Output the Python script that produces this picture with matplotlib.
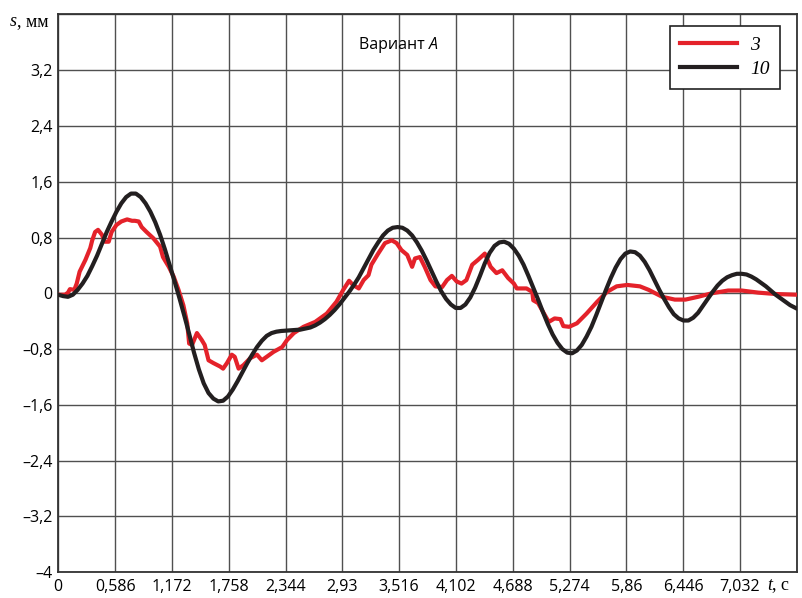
import matplotlib
matplotlib.use("Agg")
import matplotlib.pyplot as plt
from matplotlib.lines import Line2D

# curve "10" (black): t in s, s in mm
t10 = [0.00, 0.05, 0.10, 0.15, 0.20, 0.25, 0.30, 0.35, 0.40, 0.45, 0.50, 0.55, 0.60,
       0.65, 0.70, 0.75, 0.80, 0.85, 0.90, 0.95, 1.00, 1.05, 1.10, 1.15, 1.20, 1.25,
       1.30, 1.35, 1.40, 1.45, 1.50, 1.55, 1.60, 1.65, 1.70, 1.75, 1.80, 1.85, 1.90,
       1.95, 2.00, 2.05, 2.10, 2.15, 2.20, 2.25, 2.30, 2.40, 2.50, 2.60, 2.65, 2.70,
       2.75, 2.80, 2.85, 2.90, 2.95, 3.00, 3.05, 3.10, 3.15, 3.20, 3.25, 3.30, 3.35,
       3.40, 3.45, 3.50, 3.55, 3.60, 3.65, 3.70, 3.75, 3.80, 3.85, 3.90, 3.95, 4.00,
       4.05, 4.10, 4.15, 4.20, 4.25, 4.30, 4.35, 4.40, 4.45, 4.50, 4.55, 4.60, 4.65,
       4.70, 4.75, 4.80, 4.85, 4.90, 4.95, 5.00, 5.05, 5.10, 5.15, 5.20, 5.25, 5.30,
       5.35, 5.40, 5.45, 5.50, 5.55, 5.60, 5.65, 5.70, 5.75, 5.80, 5.85, 5.90, 5.95,
       6.00, 6.05, 6.10, 6.15, 6.20, 6.25, 6.30, 6.35, 6.40, 6.45, 6.50, 6.55, 6.60,
       6.65, 6.70, 6.75, 6.80, 6.85, 6.90, 6.95, 7.00, 7.05, 7.10, 7.15, 7.20, 7.25,
       7.30, 7.35, 7.40, 7.45, 7.50, 7.55, 7.62]
s10 = [-0.02, -0.04, -0.05, -0.02, 0.05, 0.14, 0.25, 0.39, 0.54, 0.71, 0.88, 1.03,
       1.17, 1.29, 1.38, 1.43, 1.43, 1.38, 1.29, 1.17, 1.02, 0.84, 0.63, 0.40, 0.17,
       -0.07, -0.32, -0.58, -0.85, -1.09, -1.29, -1.43, -1.51, -1.55, -1.54, -1.48,
       -1.38, -1.26, -1.13, -1.00, -0.88, -0.77, -0.68, -0.61, -0.57, -0.55, -0.54,
       -0.53, -0.52, -0.49, -0.46, -0.42, -0.37, -0.31, -0.24, -0.16, -0.07, 0.02,
       0.12, 0.23, 0.36, 0.49, 0.62, 0.73, 0.83, 0.90, 0.94, 0.95, 0.94, 0.90, 0.83,
       0.73, 0.61, 0.47, 0.32, 0.17, 0.03, -0.08, -0.16, -0.21, -0.21, -0.16, -0.06,
       0.08, 0.25, 0.43, 0.58, 0.68, 0.73, 0.74, 0.71, 0.64, 0.54, 0.41, 0.25, 0.08,
       -0.09, -0.27, -0.44, -0.59, -0.71, -0.80, -0.85, -0.86, -0.82, -0.74, -0.62,
       -0.48, -0.31, -0.13, 0.05, 0.22, 0.37, 0.49, 0.57, 0.60, 0.59, 0.54, 0.45,
       0.33, 0.19, 0.05, -0.08, -0.20, -0.30, -0.36, -0.39, -0.39, -0.35, -0.28,
       -0.18, -0.08, 0.02, 0.11, 0.18, 0.23, 0.26, 0.28, 0.28, 0.27, 0.24, 0.20,
       0.15, 0.10, 0.04, -0.02, -0.07, -0.12, -0.17, -0.22]

# curve "3" (red)
t3 = [0.00, 0.07, 0.10, 0.12, 0.165, 0.19, 0.22, 0.28, 0.33, 0.35, 0.38, 0.41, 0.45,
      0.48, 0.52, 0.55, 0.60, 0.65, 0.71, 0.76, 0.79, 0.83, 0.86, 0.91, 0.98, 1.05,
      1.08, 1.14, 1.19, 1.24, 1.29, 1.33, 1.35, 1.38, 1.43, 1.48, 1.51, 1.55, 1.60,
      1.67, 1.70, 1.74, 1.79, 1.82, 1.86, 1.91, 1.98, 2.05, 2.10, 2.15, 2.22, 2.31,
      2.36, 2.43, 2.53, 2.65, 2.77, 2.87, 2.94, 3.00, 3.04, 3.10, 3.15, 3.20, 3.23,
      3.30, 3.37, 3.44, 3.49, 3.54, 3.60, 3.65, 3.68, 3.73, 3.78, 3.84, 3.89, 3.96,
      4.01, 4.06, 4.11, 4.16, 4.21, 4.27, 4.33, 4.40, 4.46, 4.52, 4.58, 4.64, 4.70,
      4.73, 4.83, 4.89, 4.90, 4.95, 5.01, 5.06, 5.12, 5.18, 5.21, 5.27, 5.35, 5.45,
      5.56, 5.66, 5.76, 5.87, 6.00, 6.09, 6.23, 6.36, 6.47, 6.60, 6.74, 6.91, 7.05,
      7.22, 7.40, 7.62]
s3 = [-0.02, -0.02, 0.01, 0.06, 0.05, 0.14, 0.31, 0.48, 0.65, 0.76, 0.88, 0.91, 0.84,
      0.74, 0.74, 0.88, 0.98, 1.03, 1.06, 1.04, 1.04, 1.03, 0.95, 0.88, 0.79, 0.67,
      0.52, 0.38, 0.24, 0.05, -0.17, -0.43, -0.72, -0.74, -0.57, -0.67, -0.74, -0.96,
      -1.00, -1.05, -1.08, -1.00, -0.88, -0.91, -1.08, -1.03, -0.93, -0.88, -0.96,
      -0.91, -0.84, -0.77, -0.67, -0.57, -0.48, -0.41, -0.29, -0.12, 0.05, 0.18, 0.12,
      0.07, 0.19, 0.26, 0.41, 0.57, 0.72, 0.76, 0.72, 0.62, 0.55, 0.38, 0.50, 0.52,
      0.38, 0.19, 0.10, 0.09, 0.19, 0.25, 0.17, 0.14, 0.19, 0.41, 0.48, 0.57, 0.38,
      0.29, 0.33, 0.22, 0.14, 0.07, 0.07, 0.02, -0.10, -0.14, -0.29, -0.41, -0.36,
      -0.37, -0.47, -0.48, -0.43, -0.29, -0.12, 0.02, 0.10, 0.12, 0.10, 0.05, -0.05,
      -0.09, -0.09, -0.05, 0.00, 0.04, 0.04, 0.01, -0.01, -0.02]

xticks = [0, 0.586, 1.172, 1.758, 2.344, 2.93, 3.516, 4.102, 4.688, 5.274, 5.86,
          6.446, 7.032, 7.618]
xlabels = ["0", "0,586", "1,172", "1,758", "2,344", "2,93", "3,516", "4,102",
           "4,688", "5,274", "5,86", "6,446", "7,032", ""]
yticks = [-4, -3.2, -2.4, -1.6, -0.8, 0, 0.8, 1.6, 2.4, 3.2, 4]
ylabels = ["\u20134", "\u20133,2", "\u20132,4", "\u20131,6", "\u20130,8", "0",
           "0,8", "1,6", "2,4", "3,2", ""]

red = "#e4222a"
black = "#231f20"
sans = "Open Sans"
serif = "Liberation Serif"

fig = plt.figure(figsize=(8.03, 5.98), dpi=100)
ax = fig.add_axes([0.0726, 0.043, 0.9196, 0.933])

ax.plot(t3, s3, color=red, lw=3.0, solid_capstyle="round", solid_joinstyle="round", zorder=3)
ax.plot(t10, s10, color=black, lw=3.0, solid_capstyle="round", solid_joinstyle="round", zorder=4)

ax.set_xlim(0, 7.618)
ax.set_ylim(-4, 4)
ax.set_xticks(xticks)
ax.set_xticklabels(xlabels, family=sans, fontsize=11.5)
ax.set_yticks(yticks)
ax.set_yticklabels(ylabels, family=sans, fontsize=11.5)
ax.tick_params(axis="x", length=0, pad=5)
ax.tick_params(axis="y", length=0, pad=4)
ax.grid(True, color="#505050", lw=1.0)
ax.set_axisbelow(True)
for sp in ax.spines.values():
    sp.set_color("#333333")
    sp.set_linewidth(1.3)

# axis names with italic variable letters
a1 = fig.text(10 / 803, 1 - 22 / 598, "s", family=serif, style="italic", fontsize=13,
              ha="left", va="center")
ax.annotate(", мм", xy=(1, 0), xycoords=a1, va="bottom", ha="left",
            family=serif, fontsize=13)
a2 = fig.text(767 / 803, 1 - 585 / 598, "t", family=serif, style="italic", fontsize=13,
              ha="left", va="center")
ax.annotate(", с", xy=(1, 0), xycoords=a2, va="bottom", ha="left",
            family=serif, fontsize=13)

v1 = ax.text(3.10, 3.56, "Вариант ", family=sans, fontsize=11.5, ha="left", va="center")
ax.annotate("A", xy=(1, 0), xycoords=v1, va="bottom", ha="left",
            family=sans, style="italic", fontsize=11.5)

handles = [Line2D([], [], color=red, lw=3.0), Line2D([], [], color=black, lw=3.0)]
leg = ax.legend(handles, ["3", "10"], loc="upper right", bbox_to_anchor=(0.978, 0.98),
                borderaxespad=0, prop={"family": serif, "style": "italic", "size": 14},
                handlelength=2.9, handletextpad=0.7, labelspacing=0.35,
                borderpad=0.55, fancybox=False, framealpha=1, edgecolor="#222222")
leg.get_frame().set_linewidth(1.2)

fig.savefig("out.png", dpi=100)
